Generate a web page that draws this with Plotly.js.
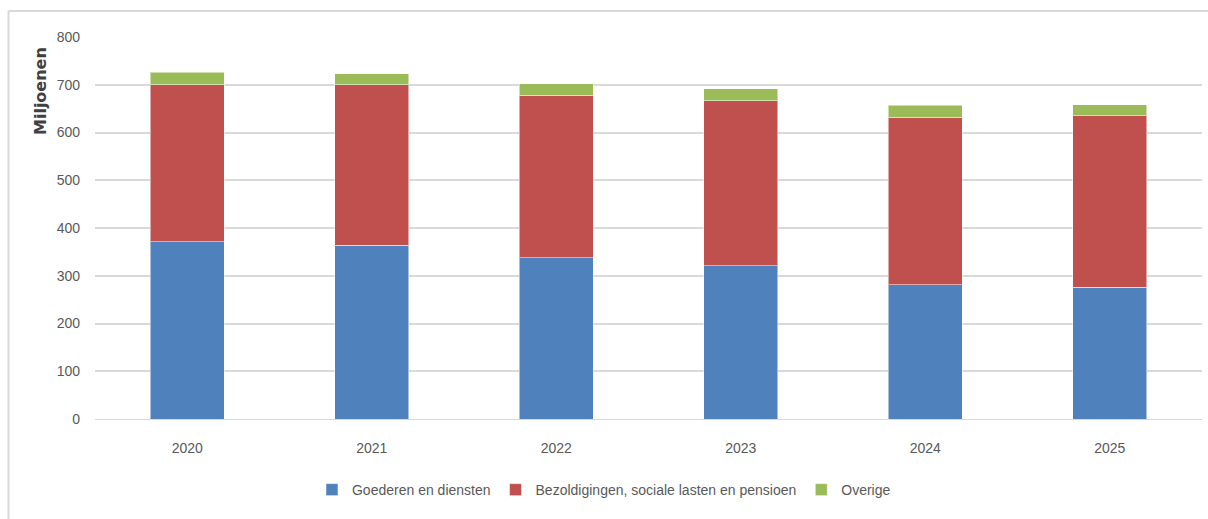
<!DOCTYPE html>
<html>
<head>
<meta charset="utf-8">
<script src="https://cdn.plot.ly/plotly-3.0.1.min.js"></script>
<style>html,body{margin:0;padding:0;background:#fff;}#chart{width:1208px;height:519px;}</style>
</head>
<body>
<div id="chart"></div>
<script>
const years = ['2020', '2021', '2022', '2023', '2024', '2025'];
const goederen = [371, 364, 338, 321, 281, 276];
const bezoldigingen = [329, 336, 340, 345, 351, 359];
const overige = [26, 23, 24, 26, 25, 23];
const yTicks = [0, 100, 200, 300, 400, 500, 600, 700, 800];

const font = "'Liberation Sans', Arial, sans-serif";

const traces = [
  {type: 'bar', name: 'Goederen en diensten', x: years, y: goederen, marker: {color: '#4F81BD', line: {color: 'rgba(255,255,255,0.5)', width: 1}}},
  {type: 'bar', name: 'Bezoldigingen, sociale lasten en pensioen', x: years, y: bezoldigingen, marker: {color: '#C0504D', line: {color: 'rgba(255,255,255,0.5)', width: 1}}},
  {type: 'bar', name: 'Overige', x: years, y: overige, marker: {color: '#9BBB59', line: {color: 'rgba(255,255,255,0.5)', width: 1}}}
];

const layout = {
  width: 1208, height: 519,
  margin: {l: 95, r: 6, t: 37, b: 100},
  barmode: 'stack',
  bargap: 0.6,
  paper_bgcolor: '#fff', plot_bgcolor: '#fff',
  font: {family: font, size: 14, color: '#595959'},
  showlegend: true,
  legend: {orientation: 'h', x: 0.196, xanchor: 'left', y: -0.186, yanchor: 'middle',
           font: {family: font, size: 14, color: '#595959'}, traceorder: 'normal', itemwidth: 30},
  xaxis: {type: 'category', showgrid: false, zeroline: false, showline: true, linecolor: '#d9d9d9', linewidth: 1,
          ticks: '', tickfont: {family: font, size: 14, color: '#595959'}, ticklabelstandoff: 16},
  yaxis: {range: [0, 800], tickvals: yTicks, ticktext: yTicks.map(String), showgrid: true, gridcolor: '#d9d9d9', gridwidth: 2,
          zeroline: false, showline: false, ticks: '', tickfont: {family: font, size: 14, color: '#595959'}, ticklabelstandoff: 14},
  annotations: [{
    text: '<b>Miljoenen</b>', xref: 'paper', yref: 'paper',
    x: (40 - 95) / 1107, y: (419 - 91) / 382, xanchor: 'center', yanchor: 'middle',
    textangle: -90, showarrow: false, font: {family: "'DejaVu Sans', sans-serif", size: 16, color: '#404040'}
  }],
  shapes: [
    {type: 'line', xref: 'paper', yref: 'paper', x0: (8.5 - 95) / 1107, x1: (8.5 - 95) / 1107, y0: (419 - 11) / 382, y1: (419 - 519) / 382, line: {color: '#d9d9d9', width: 2}},
    {type: 'line', xref: 'paper', yref: 'paper', x0: (8.5 - 95) / 1107, x1: (1208 - 95) / 1107, y0: (419 - 11) / 382, y1: (419 - 11) / 382, line: {color: '#d9d9d9', width: 2}}
  ]
};

Plotly.newPlot('chart', traces, layout, {displayModeBar: false, staticPlot: true});
</script>
</body>
</html>
